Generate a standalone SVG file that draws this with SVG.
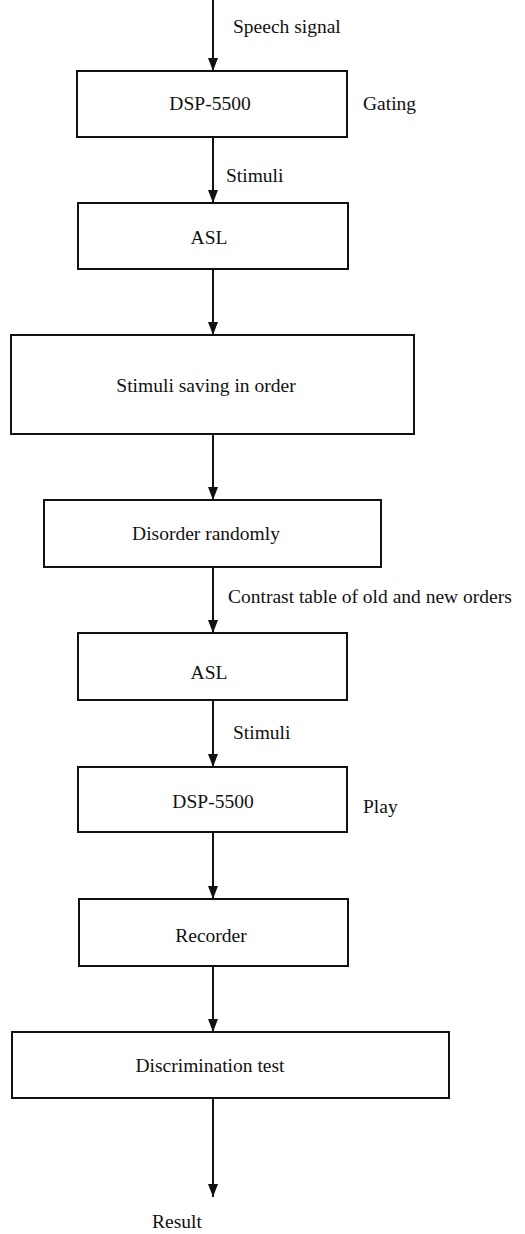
<svg xmlns="http://www.w3.org/2000/svg" width="525" height="1234" viewBox="0 0 525 1234">
<style>
  .box { fill: #ffffff; stroke: #111; stroke-width: 2; }
  .t { font-family: "Liberation Serif", "Times New Roman", serif; font-size: 19.5px; fill: #111; }
  .c { text-anchor: middle; }
  .edge { stroke: #111; stroke-width: 2; fill: none; marker-end: url(#ah); }
</style>
<defs>
  <marker id="ah" markerUnits="userSpaceOnUse" markerWidth="13" markerHeight="10" refX="13" refY="5" orient="auto">
    <path d="M0,0 L13,5 L0,10 Z" fill="#111"/>
  </marker>
</defs>
<rect width="525" height="1234" fill="#ffffff"/>
<g id="connectors">
  <line class="edge" x1="213" y1="0" x2="213" y2="71"/>
  <line class="edge" x1="213" y1="137" x2="213" y2="203"/>
  <line class="edge" x1="213" y1="269" x2="213" y2="335"/>
  <line class="edge" x1="213" y1="434" x2="213" y2="500"/>
  <line class="edge" x1="213" y1="567" x2="213" y2="633"/>
  <line class="edge" x1="213" y1="700" x2="213" y2="767"/>
  <line class="edge" x1="213" y1="832" x2="213" y2="899"/>
  <line class="edge" x1="213" y1="966" x2="213" y2="1032"/>
  <line class="edge" x1="213" y1="1098" x2="213" y2="1197"/>
  <text class="t" x="233" y="33">Speech signal</text>
  <text class="t" x="363" y="110">Gating</text>
  <text class="t" x="226" y="182">Stimuli</text>
  <text class="t" x="228" y="603">Contrast table of old and new orders</text>
  <text class="t" x="233" y="739">Stimuli</text>
  <text class="t" x="363" y="813">Play</text>
  <text class="t c" x="177" y="1228">Result</text>
</g>
<g id="node-dsp1">
  <rect class="box" x="77" y="71" width="270" height="66"/>
  <text class="t c" x="210" y="110">DSP-5500</text>
</g>
<g id="node-asl1">
  <rect class="box" x="78" y="203" width="270" height="66"/>
  <text class="t c" x="209" y="244">ASL</text>
</g>
<g id="node-saving">
  <rect class="box" x="11" y="335" width="403" height="99"/>
  <text class="t c" x="206" y="392">Stimuli saving in order</text>
</g>
<g id="node-disorder">
  <rect class="box" x="44" y="500" width="337" height="67"/>
  <text class="t c" x="206" y="540">Disorder randomly</text>
</g>
<g id="node-asl2">
  <rect class="box" x="78" y="633" width="269" height="67"/>
  <text class="t c" x="209" y="679">ASL</text>
</g>
<g id="node-dsp2">
  <rect class="box" x="78" y="767" width="269" height="65"/>
  <text class="t c" x="213" y="808">DSP-5500</text>
</g>
<g id="node-recorder">
  <rect class="box" x="79" y="899" width="269" height="67"/>
  <text class="t c" x="211" y="942">Recorder</text>
</g>
<g id="node-discrimination">
  <rect class="box" x="12" y="1032" width="437" height="66"/>
  <text class="t c" x="210" y="1072">Discrimination test</text>
</g>
</svg>
